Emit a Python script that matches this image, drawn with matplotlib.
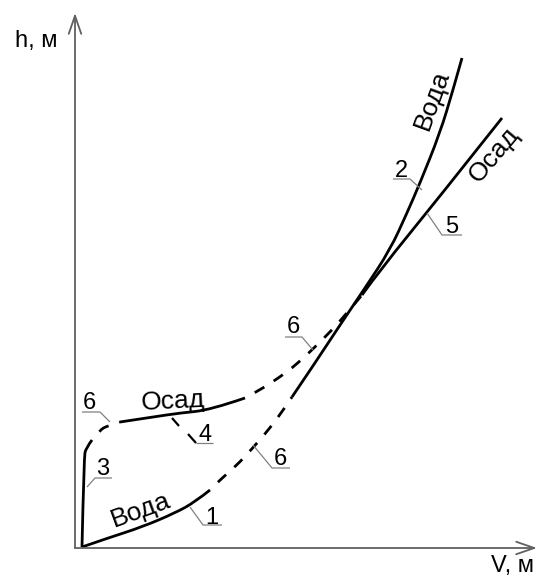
import matplotlib
matplotlib.use("Agg")
import matplotlib.pyplot as plt
from matplotlib.path import Path
from matplotlib.patches import PathPatch

plt.rcParams['font.family'] = ['Liberation Sans', 'DejaVu Sans']

# Water curve ("Вода"): solid start, dashed transition, solid upper branch
water_low_v = [7, 33, 67, 100, 120, 135]
water_low_h = [1, 10, 21, 35, 46, 58]
water_gap_v = [135, 147, 162, 175, 190, 205, 217]
water_gap_h = [58, 70, 83, 97, 114, 133, 151]
water_high_v = [217, 240, 265, 290, 315, 332, 345, 365, 378, 387]
water_high_h = [151, 185, 223, 260, 298, 335, 365, 415, 458, 490]

# Sediment curve ("Осад"): steep start, dashed, flat middle, dashed, straight upper branch
sed_start_v = [7, 9, 11, 17]
sed_start_h = [1, 91, 100, 108]
sed_gap1_v = [17, 25, 32, 45]
sed_gap1_h = [108, 118, 122, 126]
sed_mid_v = [45, 78, 105, 135, 170]
sed_mid_h = [126, 131, 135, 138, 150]
sed_gap2_v = [170, 185, 205, 222, 240, 257, 272, 287]
sed_gap2_h = [150, 158, 171, 184, 201, 218, 235, 253]
sed_high_v = [287, 305, 362, 427]
sed_high_h = [253, 278, 348, 430]

fig = plt.figure(figsize=(5.4, 5.78), dpi=100)
ax = fig.add_axes([0, 0, 1, 1])
ax.set_xlim(-75, 465)
ax.set_ylim(-30, 548)
ax.set_axis_off()

axis_color = '#606060'
lead_color = '#808080'
lw = 2.0


def smooth(vs, hs):
    """Quadratic B-spline path through the end points, using inner points as controls."""
    pts = list(zip(vs, hs))
    verts = [pts[0]]
    codes = [Path.MOVETO]
    if len(pts) == 2:
        verts.append(pts[1])
        codes.append(Path.LINETO)
        return Path(verts, codes)
    for i in range(1, len(pts) - 1):
        ctrl = pts[i]
        if i < len(pts) - 2:
            end = ((pts[i][0] + pts[i + 1][0]) / 2, (pts[i][1] + pts[i + 1][1]) / 2)
        else:
            end = pts[-1]
        verts += [ctrl, end]
        codes += [Path.CURVE3, Path.CURVE3]
    return Path(verts, codes)


def curve(vs, hs, dashed=False):
    style = (4, (4, 4)) if dashed else 'solid'
    patch = PathPatch(smooth(vs, hs), facecolor='none', edgecolor='black', lw=lw,
                      linestyle=style, capstyle='butt', joinstyle='round')
    ax.add_patch(patch)


# coordinate axes with open arrow heads
arrow = dict(arrowstyle='->,head_length=1.3,head_width=0.45', color=axis_color,
             lw=1.3, mutation_scale=10, shrinkA=0, shrinkB=0)
ax.annotate('', xy=(0, 535), xytext=(0, 0), arrowprops=arrow)
ax.annotate('', xy=(462, 0), xytext=(0, 0), arrowprops=arrow)
ax.text(-60, 501, 'h, м', fontsize=17, ha='left', va='baseline')
ax.text(416, -24, 'V, м', fontsize=17, ha='left', va='baseline')

curve(water_low_v, water_low_h)
curve(water_gap_v, water_gap_h, dashed=True)
curve(water_high_v, water_high_h)

curve(sed_start_v, sed_start_h)
curve(sed_gap1_v, sed_gap1_h, dashed=True)
curve(sed_mid_v, sed_mid_h)
curve(sed_gap2_v, sed_gap2_h, dashed=True)
curve(sed_high_v, sed_high_h)

# curve names
ax.text(66, 38, 'Вода', fontsize=19, rotation=20, ha='center', va='center')
ax.text(98, 147, 'Осад', fontsize=19, rotation=3, ha='center', va='center')
ax.text(357, 448, 'Вода', fontsize=19, rotation=70, ha='center', va='center')
ax.text(419, 393, 'Осад', fontsize=19, rotation=50, ha='center', va='center')


# numbered leaders
def leader(xs, ys, label, tx, ty):
    ax.plot(xs, ys, color=lead_color, lw=0.9, solid_capstyle='butt')
    ax.text(tx, ty, label, fontsize=17, ha='center', va='baseline')


leader([7, 25, 35], [136, 136, 126], '6', 14, 139)
leader([12, 20, 37], [61, 70, 70], '3', 28, 73)
leader([115, 128, 147], [41, 23, 23], '1', 137, 24)
leader([178, 197, 215], [103, 80, 80], '6', 205, 83)
leader([210, 227, 238], [211, 211, 198], '6', 218, 215)
leader([318, 335, 347], [369, 369, 358], '2', 326, 371)
leader([352, 367, 387], [335, 313, 313], '5', 377, 315)
# leader "4" with two short heavy strokes
ax.plot([97, 104], [130, 122], color='black', lw=1.6, solid_capstyle='butt')
ax.plot([113, 121], [114, 105], color='black', lw=1.6, solid_capstyle='butt')
leader([121, 138], [105, 105], '4', 130, 107)

fig.savefig('out.png', dpi=100)
